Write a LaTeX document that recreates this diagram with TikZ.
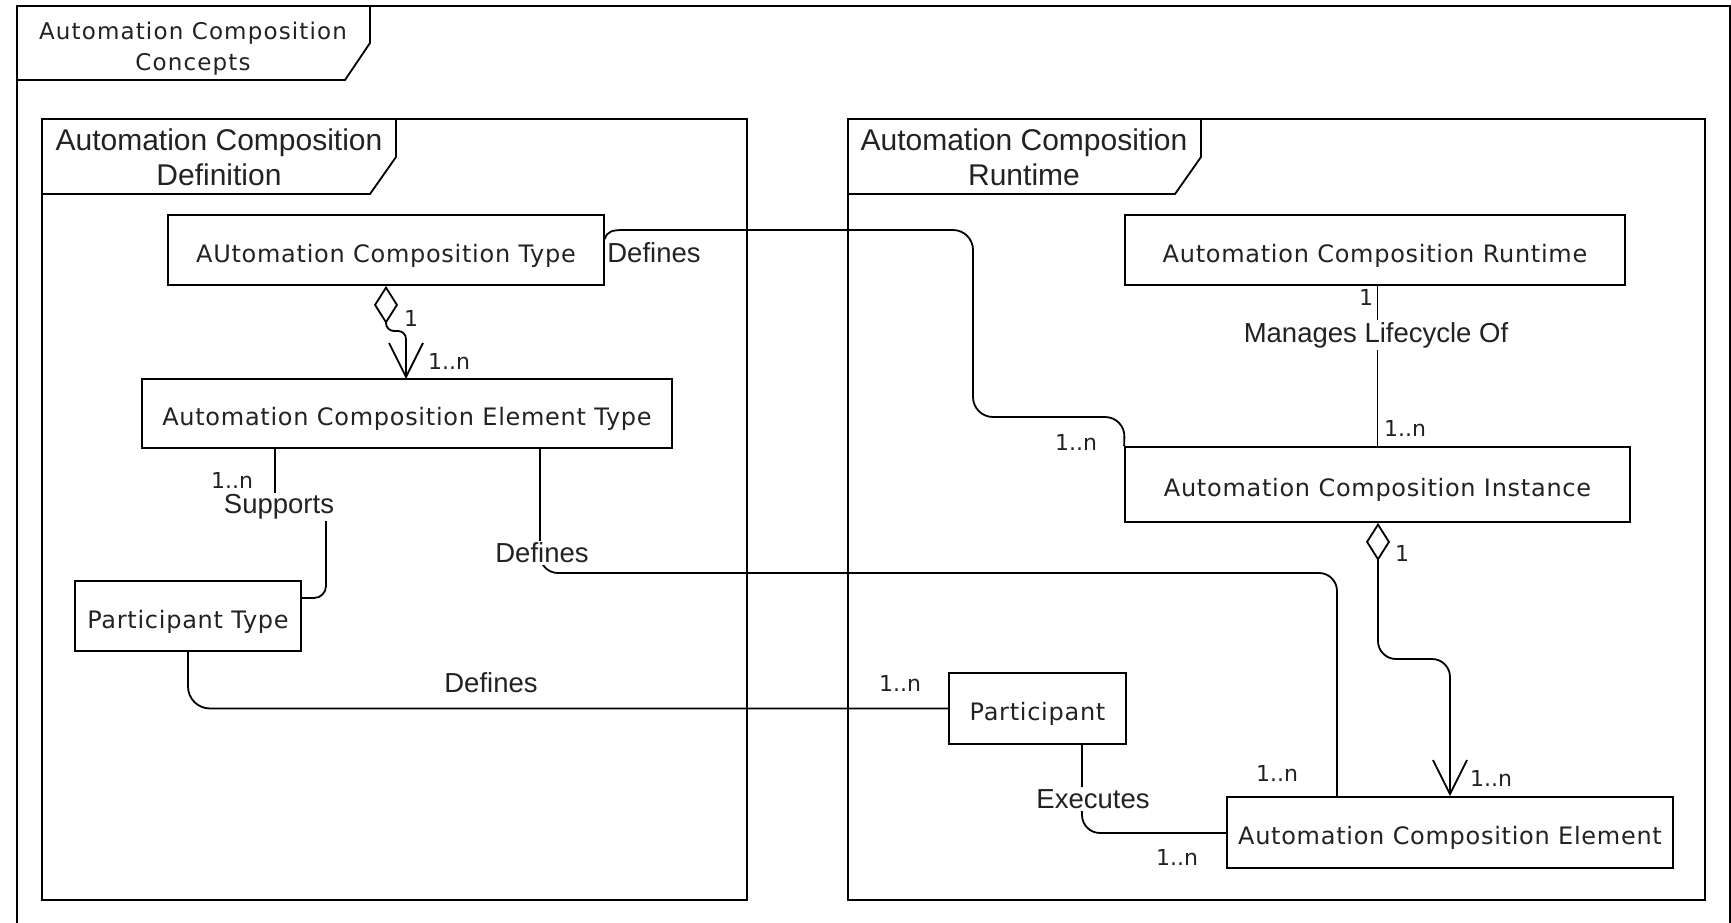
\documentclass[tikz,border=0pt]{standalone}
\usepackage{fontspec}
\newfontfamily\verd{DejaVu Sans}
\newfontfamily\verdbox[LetterSpace=3]{DejaVu Sans}
\newfontfamily\verdsp[LetterSpace=5]{DejaVu Sans}
\newfontfamily\arial{Liberation Sans}
\usetikzlibrary{arrows.meta,calc}
\definecolor{txt}{HTML}{222222}
\begin{document}
\begin{tikzpicture}[x=1pt,y=-1pt,
  box/.style={draw, line width=1.8pt, font=\verdbox\fontsize{24}{28}\selectfont, text=txt, inner sep=0pt, text height=29pt, text depth=5pt},
  conn/.style={line width=1.8pt, rounded corners=18pt},
  lbl/.style={font=\arial\fontsize{27.5}{31}\selectfont, text=txt, inner sep=2pt, fill=white},
  mult/.style={font=\verd\fontsize{22}{25}\selectfont, text=txt, inner sep=0pt},
  frm/.style={draw, line width=1.8pt},
  deftitle/.style={font=\arial\fontsize{30}{35}\selectfont, text=txt, align=center, inner sep=0pt},
  agg/.style={{Diamond[open,length=38pt,width=24pt]}-{Straight Barb[length=34pt,width=34pt]}}
]
\useasboundingbox (0,0) rectangle (1731,922);
% outer frame
\draw[frm] (17,6) rectangle (1730,940);
\draw[frm] (17,80) -- (345,80) -- (370,43) -- (370,6);
\node[font=\verdsp\fontsize{23}{31}\selectfont, text=txt, align=center, inner sep=0pt] (tconcepts) at (193,49) {Automation Composition\\Concepts};
% definition frame
\draw[frm] (42,119) rectangle (747,900);
\draw[frm] (42,194) -- (370,194) -- (396,157) -- (396,119);
\node[deftitle] (tdef) at (219,157) {Automation Composition\\Definition};
% runtime frame
\draw[frm] (848,119) rectangle (1705,900);
\draw[frm] (848,194) -- (1175,194) -- (1201,157) -- (1201,119);
\node[deftitle] (trun) at (1024,157) {Automation Composition\\Runtime};

% boxes
\node[box, minimum width=436pt, minimum height=70pt] (ACT) at (386,250) {AUtomation Composition Type};
\node[box, minimum width=530pt, minimum height=69pt] (ACET) at (407,413.5) {Automation Composition Element Type};
\node[box, minimum width=226pt, minimum height=70pt] (PT) at (188,616) {Participant Type};
\node[box, minimum width=500pt, minimum height=70pt] (ACR) at (1375,250) {Automation Composition Runtime};
\node[box, minimum width=505pt, minimum height=75pt] (ACI) at (1377.5,484.5) {Automation Composition Instance};
\node[box, minimum width=177pt, minimum height=71pt] (PA) at (1037.5,708.5) {Participant};
\node[box, minimum width=446pt, minimum height=71pt] (ACE) at (1450,832.5) {Automation Composition Element};

% connectors
% ACT -> ACET aggregation
\draw[conn, rounded corners=8pt, agg] (ACT.south) -- (386,331) -- (406,331) -- (406,379);
\node[mult] (m1) at (411,318) {1};
\node[mult] (m2) at (449,361) {1..n};

% ACT -> ACI defines
\draw[line width=1.8pt] ($(ACT.east)+(0,-11)$) .. controls ($(ACT.east)+(2,-19)$) and ($(ACT.east)+(8,-20)$) .. (624,230);
\draw[conn, rounded corners=20pt] (623,230) -- (973,230) -- (973,417) -- (1125,417) -- (ACI.north west);
\node[lbl, fill=none] (l1) at (654,253) {Defines};
\node[mult] (m3) at (1076,442) {1..n};

% ACR -> ACI
\draw[conn] (ACI.north |- ACR.south) -- (ACI.north);
\node[lbl] (l2) at (1376,335) {Manages Lifecycle Of};
\node[mult] (m4) at (1366,297) {1};
\node[mult] (m5) at (1405,428) {1..n};

% ACET -> PT supports
\draw[conn, rounded corners=12pt] (ACET.south -| 275,0) -- (275,507) -- (326,507) -- (326,598) -- (PT.east |- 0,598);
\node[lbl] (l3) at (279,507) {Supports};
\node[mult] (m6) at (232,480) {1..n};

% ACET -> ACE defines
\draw[conn] (ACET.south -| 540,0) -- (540,573) -- (1337,573) -- (ACE.north -| 1337,0);
\node[lbl] (l4) at (542,553) {Defines};
\node[mult] (m7) at (1277,773) {1..n};

% PT -> Participant defines
\draw[conn, rounded corners=22pt] (PT.south) -- (188,708.5) -- (PA.west);
\node[lbl] (l5) at (491,683) {Defines};
\node[mult] (m8) at (900,683) {1..n};

% ACI -> ACE aggregation
\draw[conn, agg] (ACI.south -| 1378,0) -- (1378,659) -- (1450,659) -- (ACE.north);
\node[mult] (m9) at (1402,553) {1};
\node[mult] (m10) at (1491,778) {1..n};

% Participant -> ACE executes
\draw[conn] (PA.south -| 1082,0) -- (1082,833) -- (ACE.west |- 0,833);
\node[lbl] (l6) at (1093,799) {Executes};
\node[mult] (m11) at (1177,857) {1..n};
\end{tikzpicture}
\end{document}
